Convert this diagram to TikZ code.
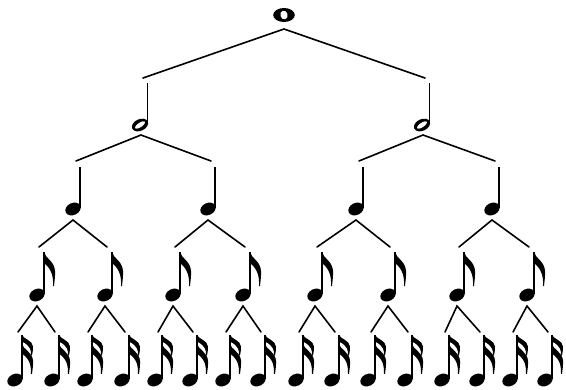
\documentclass[tikz,border=0pt]{standalone}
\newcommand{\musflag}[1]{\fill[#1] (0,0) .. controls (1,6) and (10.5,9) .. (11,19)
      .. controls (11.3,24) and (10.5,29) .. (10,34)
      -- (9,34) .. controls (9.3,27) and (9,18) .. (0,11) -- cycle;}
\begin{document}
\begin{tikzpicture}[x=1pt,y=-1pt]
\tikzset{
  conn/.style={line width=1.6pt, line cap=round},
  stemline/.style={line width=1.6pt},
  headshape/.style={rotate=25},
  pics/wholenote/.style={code={
    \fill (0,0) ellipse [x radius=10.8pt, y radius=7pt];
    \fill[white, rotate=15] (0,0) ellipse [x radius=3.6pt, y radius=4.4pt];
    \coordinate (-bot) at (0,14);
  }},
  pics/halfnote/.style={code={
    \fill[headshape] (0,0) ellipse [x radius=8.5pt, y radius=5.8pt];
    \fill[white, rotate=33] (0,0) ellipse [x radius=6pt, y radius=2.2pt];
    \draw[stemline] (7.5,-1) -- (7.5,-42);
    \coordinate (-top) at (3,-47);
    \coordinate (-bot) at (1,10);
  }},
  pics/quarternote/.style={code={
    \fill[headshape] (0,0) ellipse [x radius=8pt, y radius=6pt];
    \draw[stemline] (7,-1) -- (7,-42);
    \coordinate (-top) at (3,-48);
    \coordinate (-bot) at (0,11);
  }},
  pics/eighthnote/.style={code={
    \fill[headshape] (0,0) ellipse [x radius=8pt, y radius=6pt];
    \draw[stemline] (7,-1) -- (7,-43);
    \musflag{shift={(7,-43)}}
    \coordinate (-top) at (2,-48);
    \coordinate (-bot) at (0,11);
  }},
  pics/sixteenthnote/.style={code={
    \fill[headshape] (0,0) ellipse [x radius=8pt, y radius=6pt];
    \draw[stemline] (7,-1) -- (7,-45);
    \musflag{shift={(7,-45)}, yscale=0.6}
    \musflag{shift={(7,-36)}, yscale=0.88}
    \coordinate (-top) at (3,-48);
  }}
}
\useasboundingbox (0,0) rectangle (566,389);
\fill[white] (0,0) rectangle (566,389);

% notes
\pic (w) at (284,15) {wholenote};
\pic (h1) at (140,125) {halfnote};
\pic (h2) at (422,125) {halfnote};
\foreach \i/\x in {1/73,2/208,3/356,4/492}
  \pic (q\i) at (\x,209) {quarternote};
\foreach \i/\x in {1/37,2/105,3/173,4/243,5/315,6/388,7/457,8/527}
  \pic (e\i) at (\x,295) {eighthnote};
\foreach \i/\x in {1/15,2/52,3/85,4/122,5/155,6/190,7/223,8/258,9/296,10/332,11/368,12/405,13/442,14/477,15/510,16/545}
  \pic (s\i) at (\x,380) {sixteenthnote};

% connectors
\draw[conn] (h1-top) -- (w-bot) -- (h2-top);
\draw[conn] (q1-top) -- (h1-bot) -- (q2-top);
\draw[conn] (q3-top) -- (h2-bot) -- (q4-top);
\foreach \p/\a/\b in {1/1/2,2/3/4,3/5/6,4/7/8}
  \draw[conn] (e\a-top) -- (q\p-bot) -- (e\b-top);
\foreach \p/\a/\b in {1/1/2,2/3/4,3/5/6,4/7/8,5/9/10,6/11/12,7/13/14,8/15/16}
  \draw[conn] (s\a-top) -- (e\p-bot) -- (s\b-top);
\end{tikzpicture}
\end{document}
